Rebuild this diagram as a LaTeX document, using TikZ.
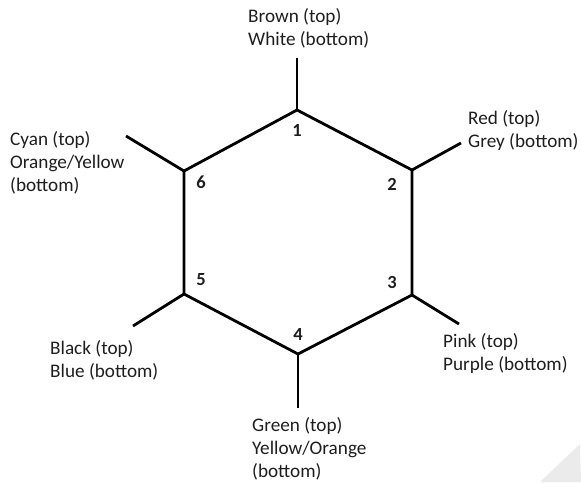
\documentclass[tikz,border=0pt]{standalone}
\usepackage{fontspec}
\setmainfont{Carlito}
\usepackage{tikz}
\usetikzlibrary{
	positioning,									% node placement
}

\definecolor{wiretext}{HTML}{1E1E1E}
\definecolor{cornershade}{HTML}{EBEBEB}

\tikzset{
	wire/.style={line width=2.8pt, line join=miter, black},
	% anchored at the baseline of the last line
	colourlabel/.style={anchor=base west, inner sep=0pt, align=left, text=wiretext,
		font=\fontsize{19.2}{23}\selectfont},
	pinno/.style={anchor=base, inner sep=0pt, text=wiretext,
		font=\fontsize{18.5}{22}\selectfont\bfseries},
}

\begin{document}
\begin{tikzpicture}[x=1pt, y=-1pt]
	\useasboundingbox (0,0) rectangle (581,482);
	% page corner
	\fill [cornershade] (540,482) -- (580,444) -- (581,482) -- cycle;

	% hexagon corners
	\coordinate (v1) at (297,110);
	\coordinate (v2) at (412,170);
	\coordinate (v3) at (412,295);
	\coordinate (v4) at (298,354);
	\coordinate (v5) at (184,294);
	\coordinate (v6) at (184,171);
	% loose ends
	\coordinate (e1) at (297,58);
	\coordinate (e2) at (461,143);
	\coordinate (e3) at (459,324);
	\coordinate (e4) at (298,408);
	\coordinate (e5) at (133,326);
	\coordinate (e6) at (126,136);

	\draw [wire] (v1) -- (v2) -- (v3) -- (v4) -- (v5) -- (v6) -- cycle;
	\draw [wire] (v1) -- (e1);
	\draw [wire] (v2) -- (e2);
	\draw [wire] (v3) -- (e3);
	\draw [wire] (v4) -- (e4);
	\draw [wire] (v5) -- (e5);
	\draw [wire] (v6) -- (e6);

	% pin numbers
	\node [pinno] (n1) at (297,136) {1};
	\node [pinno] (n2) at (392,190) {2};
	\node [pinno] (n3) at (392,288) {3};
	\node [pinno] (n4) at (298,340) {4};
	\node [pinno] (n5) at (201,285) {5};
	\node [pinno] (n6) at (201,188) {6};

	% colours
	\node [colourlabel] (l1) at (248,45) {Brown (top)\\White (bottom)};
	\node [colourlabel] (l2) at (468,147) {Red (top)\\Grey (bottom)};
	\node [colourlabel] (l3) at (443,370) {Pink (top)\\Purple (bottom)};
	\node [colourlabel] (l4) at (252,477) {Green (top)\\Yellow/Orange\\(bottom)};
	\node [colourlabel] (l5) at (50,377) {Black (top)\\Blue (bottom)};
	\node [colourlabel] (l6) at (10,191) {Cyan (top)\\Orange/Yellow\\(bottom)};
\end{tikzpicture}
\end{document}
